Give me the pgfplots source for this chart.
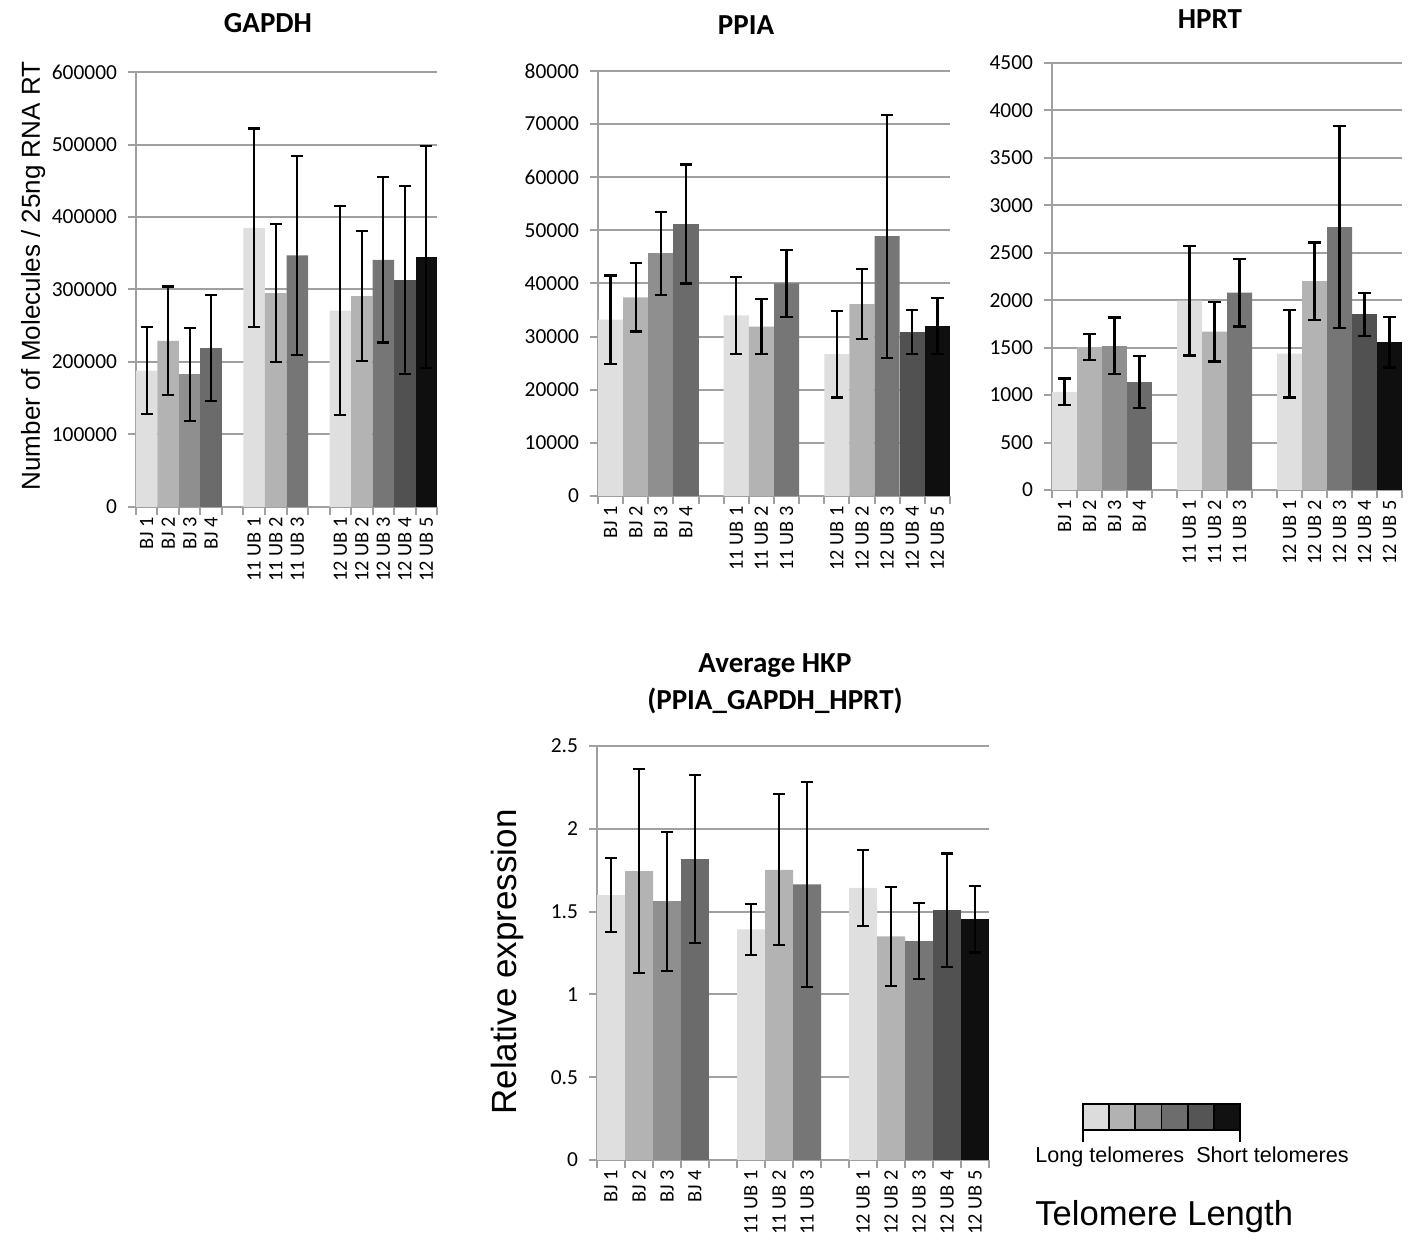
\documentclass[border=0pt]{standalone}
\usepackage{pgfplots}
\pgfplotsset{compat=1.18}
\usepackage{fontspec}
\setmainfont{Carlito}
\newfontfamily\arial{Liberation Sans}

\definecolor{gridgray}{HTML}{A0A0A0}
\definecolor{cA}{HTML}{DFDFDF}
\definecolor{cB}{HTML}{B3B3B3}
\definecolor{cC}{HTML}{8F8F8F}
\definecolor{cD}{HTML}{6B6B6B}
\definecolor{cE}{HTML}{767676}
\definecolor{cF}{HTML}{515151}
\definecolor{cG}{HTML}{0F0F0F}

\pgfplotsset{
  hk/.style={
    scale only axis,
    anchor=south west,
    xmin=-0.5, xmax=13.5, ymin=0,
    axis x line*=bottom, axis y line*=left,
    axis line style={draw=gridgray, line width=1pt},
    ymajorgrids, grid style={draw=gridgray, line width=1pt},
    xtick={0,1,2,3,5,6,7,9,10,11,12,13},
    xticklabels={BJ 1,BJ 2,BJ 3,BJ 4,11 UB 1,11 UB 2,11 UB 3,12 UB 1,12 UB 2,12 UB 3,12 UB 4,12 UB 5},
    xticklabel style={rotate=90, anchor=east, font=\fontsize{10.2}{12}\selectfont, inner sep=1pt},
    major x tick style={draw=none},
    minor xtick={-0.5,0.5,...,13.5},
    minor x tick style={draw=gridgray, line width=1pt},
    y tick style={draw=gridgray, line width=1pt},
    tick align=outside,
    minor tick length=4pt, major tick length=4pt,
    yticklabel style={font=\fontsize{10.7}{12}\selectfont, xshift=-2pt},
    /pgf/number format/assume math mode=true,
    /pgf/number format/fixed,
    /pgf/number format/1000 sep={},
    scaled y ticks=false,
    ybar, bar width=1, bar shift=0pt,
    error bars/y dir=both, error bars/y explicit,
    error bars/error bar style={draw=black, line width=1.1pt, solid},
    error bars/error mark options={rotate=90, draw=black, line width=1.1pt, mark size=3.1pt},
  },
  bA/.style={fill=cA, draw=none},
  bB/.style={fill=cB, draw=none},
  bC/.style={fill=cC, draw=none},
  bD/.style={fill=cD, draw=none},
  bE/.style={fill=cE, draw=none},
  bF/.style={fill=cF, draw=none},
  bG/.style={fill=cG, draw=none},
}

\begin{document}
\begin{tikzpicture}
\useasboundingbox (0,0) rectangle (705pt,621.5pt);

% ---------------- GAPDH ----------------
\begin{axis}[hk, at={(68pt,368pt)}, width=150.5pt, height=217.5pt,
  ymax=600000, ytick={0,100000,...,600000}]
\addplot[bA] coordinates {(0,188000) +- (0,60000) (5,385000) +- (0,137000) (9,271000) +- (0,144000)};
\addplot[bB] coordinates {(1,229000) +- (0,75000) (6,295000) +- (0,95000) (10,291000) +- (0,90000)};
\addplot[bC] coordinates {(2,183000) +- (0,64000)};
\addplot[bD] coordinates {(3,219000) +- (0,73000)};
\addplot[bE] coordinates {(7,347000) +- (0,137000) (11,341000) +- (0,114000)};
\addplot[bF] coordinates {(12,313000) +- (0,130000)};
\addplot[bG] coordinates {(13,345000) +- (0,153000)};
\end{axis}

% ---------------- PPIA ----------------
\begin{axis}[hk, at={(299pt,373.5pt)}, width=176pt, height=212.5pt,
  ymax=80000, ytick={0,10000,...,80000}]
\addplot[bA] coordinates {(0,33200) +- (0,8300) (5,34000) +- (0,7200) (9,26700) +- (0,8150)};
\addplot[bB] coordinates {(1,37400) +- (0,6450) (6,31900) +- (0,5150) (10,36100) +- (0,6600)};
\addplot[bC] coordinates {(2,45700) +- (0,7800)};
\addplot[bD] coordinates {(3,51200) +- (0,11200)};
\addplot[bE] coordinates {(7,40000) +- (0,6300) (11,48900) +- (0,22850)};
\addplot[bF] coordinates {(12,30900) +- (0,4100)};
\addplot[bG] coordinates {(13,32000) +- (0,5300)};
\end{axis}

% ---------------- HPRT ----------------
\begin{axis}[hk, at={(526pt,376.5pt)}, width=175pt, height=213.5pt,
  ymax=4500, ytick={0,500,...,4500}]
\addplot[bA] coordinates {(0,1035) +- (0,140) (5,1995) +- (0,578) (9,1436) +- (0,462)};
\addplot[bB] coordinates {(1,1505) +- (0,137) (6,1670) +- (0,315) (10,2200) +- (0,409)};
\addplot[bC] coordinates {(2,1520) +- (0,297)};
\addplot[bD] coordinates {(3,1140) +- (0,275)};
\addplot[bE] coordinates {(7,2080) +- (0,358) (11,2770) +- (0,1064)};
\addplot[bF] coordinates {(12,1850) +- (0,228)};
\addplot[bG] coordinates {(13,1555) +- (0,265)};
\end{axis}

% ---------------- Average HKP ----------------
\begin{axis}[hk, at={(298.5pt,41.5pt)}, width=196pt, height=207pt,
  ymax=2.5, ytick={0,0.5,...,2.5}]
\addplot[bA] coordinates {(0,1.600) +- (0,0.224) (5,1.393) +- (0,0.153) (9,1.643) +- (0,0.23)};
\addplot[bB] coordinates {(1,1.745) +- (0,0.617) (6,1.752) +- (0,0.456) (10,1.350) +- (0,0.30)};
\addplot[bC] coordinates {(2,1.563) +- (0,0.42)};
\addplot[bD] coordinates {(3,1.818) +- (0,0.506)};
\addplot[bE] coordinates {(7,1.665) +- (0,0.62) (11,1.322) +- (0,0.23)};
\addplot[bF] coordinates {(12,1.508) +- (0,0.343)};
\addplot[bG] coordinates {(13,1.453) +- (0,0.20)};
\end{axis}

% ---------------- titles ----------------
\node[anchor=base, font=\bfseries\fontsize{14.5}{17}\selectfont] at (134pt,605pt) {GAPDH};
\node[anchor=base, font=\bfseries\fontsize{14.5}{17}\selectfont] at (373pt,604pt) {PPIA};
\node[anchor=base, font=\bfseries\fontsize{14.5}{17}\selectfont] at (605pt,607pt) {HPRT};
\node[anchor=base, font=\bfseries\fontsize{14.5}{17}\selectfont] at (387.5pt,285pt) {Average HKP};
\node[anchor=base, font=\bfseries\fontsize{14.5}{17}\selectfont] at (387.5pt,266.5pt) {(PPIA\_GAPDH\_HPRT)};

% ---------------- y labels ----------------
\node[rotate=90, anchor=base, font=\arial\fontsize{13}{15}\selectfont] at (20pt,483.5pt) {Number of Molecules / 25ng RNA RT};
\node[rotate=90, anchor=base, font=\arial\fontsize{17.5}{20}\selectfont] at (258pt,140.5pt) {Relative expression};

% ---------------- telomere legend ----------------
\begin{scope}[line width=0.9pt]
\foreach \c [count=\i from 0] in {DCDCDC,B2B2B2,8E8E8E,6D6D6D,555555,111111}{
  \definecolor{tmp}{HTML}{\c}
  \filldraw[fill=tmp, draw=black] (541.5pt+\i*13.08pt,56.5pt) rectangle ++(13.08pt,13pt);
}
\draw (541.5pt,56.5pt) -- (541.5pt,50.5pt);
\draw (620pt,56.5pt) -- (620pt,50.5pt);
\end{scope}
\node[anchor=base west, inner sep=0pt, font=\arial\fontsize{10.8}{13}\selectfont] at (517.5pt,40pt) {Long telomeres\ \ Short telomeres};
\node[anchor=base west, inner sep=0pt, font=\arial\fontsize{17.3}{20}\selectfont] at (517.5pt,8.5pt) {Telomere Length};
\end{tikzpicture}
\end{document}
